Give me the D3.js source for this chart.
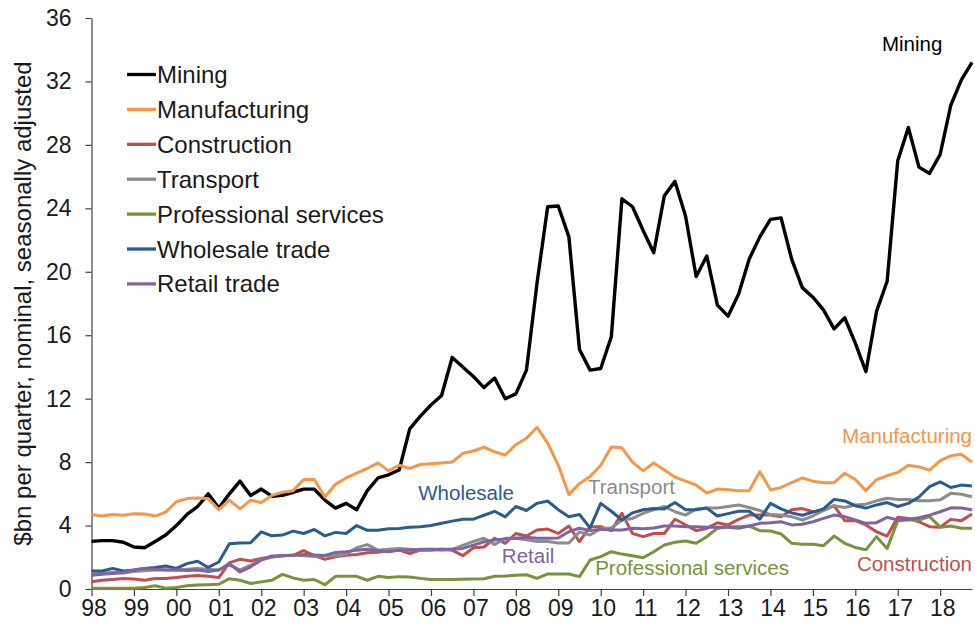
<!DOCTYPE html>
<meta charset="utf-8">
<script src="https://d3js.org/d3.v7.min.js"></script>
<style>
body { margin: 0; background: #fff; }
text { font-family: "Liberation Sans", Arial, sans-serif; }
</style>
<div id="chart"></div>
<script>

// quarterly data, 1998 Q1 to 2018 Q4, $bn per quarter
var startYear = 1998;
var tickYears = ["98","99","00","01","02","03","04","05","06","07","08","09","10","11","12","13","14","15","16","17","18"];

var mining = [3.0,3.05,3.05,2.95,2.65,2.6,3.0,3.4,4.0,4.7,
  5.2,6.0,5.1,6.0,6.8,5.9,6.3,5.85,5.9,6.1,
  6.3,6.3,5.6,5.1,5.4,5.0,6.2,7.0,7.2,7.5,
  10.1,10.9,11.6,12.2,14.6,14.0,13.4,12.7,13.3,12.0,
  12.3,13.8,19.3,24.1,24.15,22.2,15.1,13.8,13.9,15.9,
  24.6,24.1,22.6,21.2,24.8,25.7,23.5,19.7,21.0,17.9,
  17.2,18.6,20.8,22.2,23.3,23.4,20.8,19.0,18.4,17.6,
  16.4,17.1,15.5,13.7,17.5,19.4,27.0,29.1,26.6,26.2,
  27.4,30.5,32.1,33.2];

var manufacturing = [4.7,4.6,4.7,4.65,4.75,4.73,4.6,4.85,5.5,5.7,
  5.73,5.7,5.0,5.6,5.05,5.6,5.45,5.9,6.1,6.2,
  6.9,6.9,5.8,6.6,7.0,7.3,7.6,7.95,7.45,7.8,
  7.6,7.85,7.9,7.95,8.0,8.55,8.7,8.95,8.65,8.45,
  9.1,9.5,10.2,9.2,7.8,5.95,6.65,7.1,7.8,8.95,
  8.9,8.0,7.45,7.95,7.5,7.05,6.8,6.55,6.05,6.3,
  6.25,6.2,6.2,7.4,6.25,6.4,6.7,7.0,6.8,6.7,
  6.7,7.3,6.9,6.2,6.9,7.15,7.35,7.8,7.7,7.5,
  8.1,8.4,8.5,8.0];

var construction = [0.46,0.55,0.6,0.66,0.63,0.55,0.66,0.66,0.72,0.8,
  0.85,0.8,0.72,1.66,1.87,1.77,1.93,2.03,2.1,2.12,
  2.42,2.1,1.87,2.03,2.12,2.18,2.28,2.31,2.4,2.45,
  2.24,2.45,2.45,2.5,2.45,2.1,2.6,2.65,3.2,2.88,
  3.5,3.34,3.72,3.78,3.5,3.97,2.98,3.93,3.93,3.68,
  4.77,3.5,3.3,3.5,3.5,4.4,4.05,3.68,3.82,4.18,
  4.04,4.39,4.66,4.66,4.66,4.56,5.0,5.07,4.87,4.95,
  5.25,4.31,4.31,4.04,3.61,3.34,4.52,4.45,4.24,3.93,
  3.9,4.39,4.31,4.73];

var transport = [0.95,1.0,1.05,1.0,1.1,1.15,1.2,1.2,1.2,1.25,
  1.3,1.25,1.2,1.5,1.2,1.5,1.85,2.0,2.1,2.15,
  2.1,2.05,2.1,2.1,2.2,2.6,2.8,2.45,2.5,2.55,
  2.5,2.45,2.5,2.45,2.5,2.75,3.0,3.2,2.8,3.2,
  3.2,3.1,3.0,3.0,2.9,2.9,3.6,3.4,3.8,3.85,
  4.35,4.45,4.77,5.0,5.2,4.87,4.66,5.05,5.1,5.1,
  5.2,5.3,5.14,4.95,4.69,4.66,4.56,4.35,4.6,4.95,
  5.25,5.14,5.3,5.35,5.56,5.72,5.65,5.65,5.56,5.56,
  5.62,6.03,5.97,5.82];

var professional = [0.05,0.05,0.05,0.05,0.05,0.1,0.2,0.05,0.1,0.2,
  0.25,0.27,0.3,0.65,0.55,0.35,0.45,0.55,0.92,0.7,
  0.55,0.6,0.27,0.8,0.8,0.8,0.55,0.8,0.72,0.78,
  0.75,0.67,0.6,0.6,0.6,0.62,0.63,0.65,0.8,0.82,
  0.87,0.9,0.67,0.95,0.95,0.95,0.78,1.83,2.04,2.35,
  2.2,2.1,1.97,2.35,2.77,2.95,3.03,2.88,3.3,3.83,
  3.93,3.93,3.97,3.68,3.66,3.47,2.88,2.82,2.82,2.73,
  3.34,2.88,2.62,2.47,3.3,2.56,4.31,4.35,4.35,4.56,
  3.9,3.97,3.83,3.83];

var wholesale = [1.13,1.13,1.3,1.13,1.2,1.3,1.36,1.45,1.3,1.6,
  1.75,1.36,1.7,2.85,2.9,2.92,3.6,3.35,3.4,3.65,
  3.5,3.75,3.35,3.57,3.5,4.0,3.7,3.7,3.8,3.82,
  3.9,3.92,4.0,4.15,4.28,4.4,4.4,4.65,4.9,4.55,
  5.2,4.95,5.4,5.55,5.0,4.56,4.7,3.85,5.4,4.9,
  4.35,4.8,5.0,5.08,5.05,5.45,5.0,5.0,5.1,4.6,
  4.75,4.9,4.9,4.4,5.4,5.05,4.8,4.65,4.85,5.05,
  5.65,5.55,5.25,5.1,5.3,5.45,5.2,5.4,5.8,6.45,
  6.75,6.4,6.55,6.5];

var retail = [0.87,0.93,0.97,1.04,1.2,1.3,1.24,1.2,1.2,1.17,
  1.2,1.1,1.2,1.6,1.07,1.4,1.83,2.08,2.1,2.12,
  2.18,2.15,2.12,2.3,2.35,2.45,2.5,2.41,2.35,2.45,
  2.45,2.5,2.5,2.5,2.5,2.56,2.77,2.98,3.09,3.15,
  3.2,3.26,3.2,3.2,3.22,3.61,3.83,3.68,3.77,3.72,
  3.72,3.83,3.8,3.85,3.97,3.97,3.93,3.93,3.9,3.9,
  3.9,3.83,3.97,4.14,4.18,4.24,4.04,4.08,4.24,4.45,
  4.66,4.56,4.35,4.14,4.18,4.52,4.35,4.4,4.49,4.66,
  4.87,5.12,5.1,5.0];

var seriesNames = ["Mining","Manufacturing","Construction","Transport","Professional services","Wholesale trade","Retail trade"];
var seriesValues = [mining, manufacturing, construction, transport, professional, wholesale, retail];
var seriesColors = ["#000000","#f79646","#c0504d","#8c8c8c","#77933c","#2c5b8e","#8064a2"];

// in-chart labels: [text, year, value, anchor, colour]
var labels = [
  ["Mining", 2017.34, 33.9, "middle", "#000000"],
  ["Manufacturing", 2018.75, 9.2, "end", "#f79646"],
  ["Construction", 2018.75, 1.13, "end", "#c0504d"],
  ["Professional services", 2009.87, 0.88, "start", "#77933c"],
  ["Retail", 2007.67, 1.64, "start", "#8064a2"],
  ["Wholesale", 2005.7, 5.6, "start", "#2c5b8e"],
  ["Transport", 2009.7, 6.0, "start", "#8c8c8c"]
];

var width = 975, height = 629;

var svg = d3.select("#chart")
  .append("svg")
    .attr("width", width)
    .attr("height", height);

var x = d3.scaleLinear()
  .domain([1998, 2018.75])
  .range([91.5, 972]);

var y = d3.scaleLinear()
  .domain([0, 36])
  .range([589, 18]);

// axes
var xAxis = svg.append("g")
  .attr("transform", "translate(0," + y(0) + ")")
  .call(d3.axisBottom(x)
    .tickValues(d3.range(tickYears.length).map(function(i) { return startYear + i; }))
    .tickFormat(function(d, i) { return tickYears[i]; })
    .tickSize(7)
    .tickSizeOuter(0)
    .tickPadding(4));

var yAxis = svg.append("g")
  .attr("transform", "translate(" + x(1998) + ",0)")
  .call(d3.axisLeft(y)
    .tickValues(d3.range(0, 37, 4))
    .tickSize(6)
    .tickSizeOuter(0)
    .tickPadding(14));

svg.selectAll(".domain, .tick line")
  .attr("stroke", "#404040")
  .attr("stroke-width", 1.2);
svg.selectAll(".tick text")
  .attr("fill", "#1a1a1a")
  .style("font-size", "23px")
  .style("font-family", "'Liberation Sans', Arial, sans-serif");
xAxis.selectAll(".tick text").attr("dy", "0.71em").attr("dx", 2);

// y title
svg.append("text")
  .attr("transform", "translate(31," + (y(0) + y(36)) / 2 + ") rotate(-90)")
  .attr("text-anchor", "middle")
  .attr("fill", "#1a1a1a")
  .style("font-size", "24px")
  .text("$bn per quarter, nominal, seasonally adjusted");

// lines
var line = d3.line()
  .x(function(d, i) { return x(startYear + i / 4); })
  .y(function(d) { return y(d); });

svg.append("g")
  .selectAll("path")
  .data(seriesValues)
  .enter()
  .append("path")
    .attr("fill", "none")
    .attr("stroke", function(d, i) { return seriesColors[i]; })
    .attr("stroke-width", function(d, i) { return i == 0 ? 3.4 : 3; })
    .attr("stroke-linejoin", "round")
    .attr("d", line);

// legend
var legend = svg.append("g")
  .selectAll("g")
  .data(seriesNames)
  .enter()
  .append("g")
    .attr("transform", function(d, i) { return "translate(127," + (83 + i * 34.9) + ")"; });

legend.append("line")
  .attr("x1", 0).attr("x2", 29)
  .attr("y1", -8.5).attr("y2", -8.5)
  .attr("stroke", function(d, i) { return seriesColors[i]; })
  .attr("stroke-width", 3.3);

legend.append("text")
  .attr("x", 30)
  .attr("fill", "#1a1a1a")
  .style("font-size", "24px")
  .text(function(d) { return d; });

// labels on the lines
svg.append("g")
  .selectAll("text")
  .data(labels)
  .enter()
  .append("text")
    .attr("x", function(d) { return x(d[1]); })
    .attr("y", function(d) { return y(d[2]); })
    .attr("text-anchor", function(d) { return d[3]; })
    .attr("fill", function(d) { return d[4]; })
    .style("font-size", "20.5px")
    .text(function(d) { return d[0]; });

</script>
